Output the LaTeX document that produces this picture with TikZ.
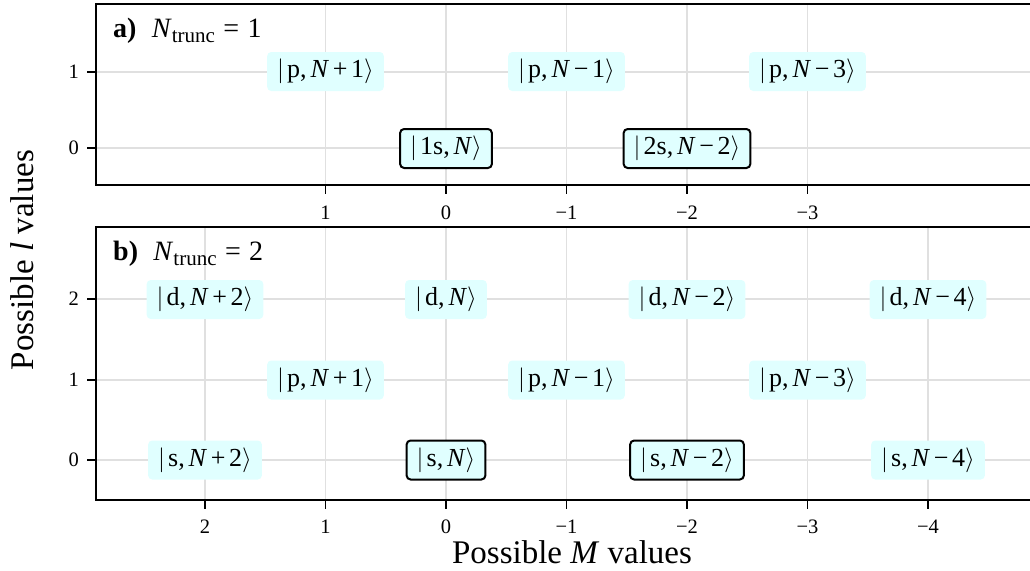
\documentclass[tikz,border=0pt]{standalone}
\usepackage{fontspec}
\setmainfont{Liberation Serif}
\definecolor{ketfill}{HTML}{E0FFFF}
\definecolor{gridgray}{HTML}{E0E0E0}
\newcommand{\kbin}[1]{\hspace{0.14em}#1\hspace{0.14em}}
\newcommand{\krel}[1]{\hspace{0.3em}#1\hspace{0.3em}}
\newcommand{\ketN}[2]{$|$\hspace{0.12em}#1,\hspace{0.15em}\textit{N}#2$\rangle$}
\tikzset{
  ketbox/.style={fill=ketfill, rounded corners=4pt, inner xsep=10pt, inner ysep=0pt,
     minimum height=39pt, font=\fontsize{26}{30}\selectfont},
  ketsel/.style={ketbox, draw=black, line width=2pt},
  gridline/.style={draw=gridgray, line width=1.6pt},
  frame/.style={draw=black, line width=1.8pt},
  tickmark/.style={draw=black, line width=1.8pt},
  ticklab/.style={font=\fontsize{20.5}{24}\selectfont, inner sep=0pt},
  axlab/.style={font=\fontsize{33}{38}\selectfont, inner sep=0pt},
  panlab/.style={font=\fontsize{28}{32}\selectfont, inner sep=0pt, anchor=base west}
}
\newcommand{\sub}{\raisebox{-0.2em}{\fontsize{21}{24}\selectfont trunc}}
\begin{document}
\begin{tikzpicture}[x=1pt,y=-1pt]
\useasboundingbox (0,0) rectangle (1030,570);
% ---------- panel a ----------
\foreach \m in {1,0,-1,-2,-3} {
  \draw[gridline] ({446-120.5*\m},4) -- ({446-120.5*\m},185);
}
\foreach \yy in {72,148} { \draw[gridline] (96,\yy) -- (1030,\yy); }
\draw[frame] (1031,4) -- (96,4) -- (96,185) -- (1031,185);
\foreach \m/\lab in {1/1,0/0,-1/{−1},-2/{−2},-3/{−3}} {
  \draw[tickmark] ({446-120.5*\m},185) -- ({446-120.5*\m},194);
  \node[ticklab] (ta\m) at ({446-120.5*\m},213) {\lab};
}
\foreach \yy/\lab in {72/1,148/0} {
  \draw[tickmark] (87,\yy) -- (96,\yy);
  \node[ticklab, anchor=east] (la\lab) at (79,\yy) {\lab};
}
\node[panlab] (pa) at (113,37) {\textbf{a)}\hspace{0.55em}\textit{N}\sub\krel{=}1};
\node[ketbox] (a1) at (325.5,71.5) {\ketN{p}{\kbin{+}1}};
\node[ketbox] (a2) at (566.5,71.5) {\ketN{p}{\kbin{−}1}};
\node[ketbox] (a3) at (807.5,71.5) {\ketN{p}{\kbin{−}3}};
\node[ketsel] (a4) at (446,148.5) {\ketN{1s}{}};
\node[ketsel] (a5) at (687,148.5) {\ketN{2s}{\kbin{−}2}};
% ---------- panel b ----------
\foreach \m in {2,1,0,-1,-2,-3,-4} {
  \draw[gridline] ({446-120.5*\m},227) -- ({446-120.5*\m},500);
}
\foreach \yy in {299,380,460} { \draw[gridline] (96,\yy) -- (1030,\yy); }
\draw[frame] (1031,227) -- (96,227) -- (96,500) -- (1031,500);
\foreach \m/\lab in {2/2,1/1,0/0,-1/{−1},-2/{−2},-3/{−3},-4/{−4}} {
  \draw[tickmark] ({446-120.5*\m},500) -- ({446-120.5*\m},509);
  \node[ticklab] (tb\m) at ({446-120.5*\m},526.5) {\lab};
}
\foreach \yy/\lab in {299/2,380/1,460/0} {
  \draw[tickmark] (87,\yy) -- (96,\yy);
  \node[ticklab, anchor=east] (lb\lab) at (79,\yy) {\lab};
}
\node[panlab] (pb) at (113,260) {\textbf{b)}\hspace{0.55em}\textit{N}\sub\krel{=}2};
\node[ketbox] (b1) at (205,299.5) {\ketN{d}{\kbin{+}2}};
\node[ketbox] (b2) at (446,299.5) {\ketN{d}{}};
\node[ketbox] (b3) at (687,299.5) {\ketN{d}{\kbin{−}2}};
\node[ketbox] (b4) at (928,299.5) {\ketN{d}{\kbin{−}4}};
\node[ketbox] (b5) at (325.5,380) {\ketN{p}{\kbin{+}1}};
\node[ketbox] (b6) at (566.5,380) {\ketN{p}{\kbin{−}1}};
\node[ketbox] (b7) at (807.5,380) {\ketN{p}{\kbin{−}3}};
\node[ketbox] (b8) at (205,460) {\ketN{s}{\kbin{+}2}};
\node[ketsel] (b9) at (446,460) {\ketN{s}{}};
\node[ketsel] (b10) at (687,460) {\ketN{s}{\kbin{−}2}};
\node[ketbox] (b11) at (928,460) {\ketN{s}{\kbin{−}4}};
% ---------- axis labels ----------
\node[axlab, anchor=base] (xl) at (572,563) {Possible \textit{M} values};
\node[axlab, anchor=base, rotate=90] (yl) at (33,260) {Possible \textit{l} values};
\end{tikzpicture}
\end{document}
